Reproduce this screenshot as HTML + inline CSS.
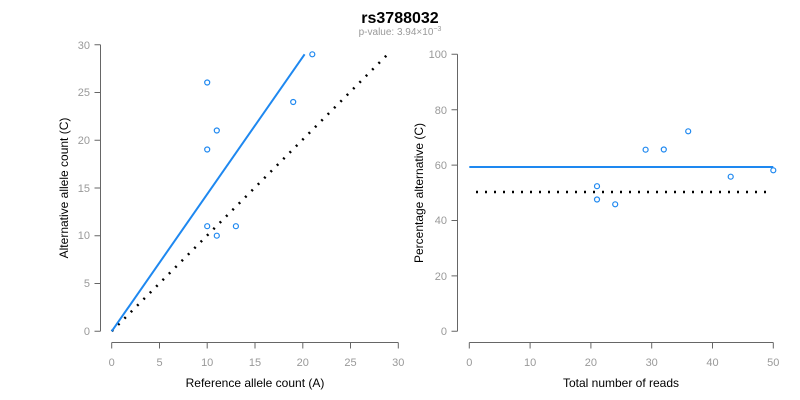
<!DOCTYPE html>
<html><head><meta charset="utf-8"><style>body{margin:0;background:#fff}svg{display:block}</style></head><body>
<svg width="800" height="400" xmlns="http://www.w3.org/2000/svg" font-family="Liberation Sans, sans-serif">
<rect width="800" height="400" fill="#fff"/>
<text x="400" y="23" text-anchor="middle" font-size="16" font-weight="bold">rs3788032</text>
<text x="400" y="35" text-anchor="middle" font-size="10" fill="#999">p-value: 3.94×10<tspan dy="-4" font-size="7">−3</tspan></text>
<g stroke="#666" stroke-width="1" fill="none">
<path d="M100.5,44.7V331.3M100.5,44.7h-6M100.5,92.5h-6M100.5,140.2h-6M100.5,188h-6M100.5,235.7h-6M100.5,283.5h-6M100.5,331.3h-6"/>
<path d="M111.7,342.5H398.3M111.7,342.5v6M159.5,342.5v6M207.2,342.5v6M255,342.5v6M302.8,342.5v6M350.5,342.5v6M398.3,342.5v6"/>
<path d="M457.5,54.3V331.3M457.5,54.3h-6M457.5,109.7h-6M457.5,165.1h-6M457.5,220.5h-6M457.5,275.9h-6M457.5,331.3h-6"/>
<path d="M469.3,342.5H773.3M469.3,342.5v6M530.1,342.5v6M590.9,342.5v6M651.7,342.5v6M712.5,342.5v6M773.3,342.5v6"/>
</g>
<g font-size="11" fill="#999" text-anchor="end">
<text x="90" y="49">30</text><text x="90" y="96">25</text><text x="90" y="144">20</text><text x="90" y="192">15</text><text x="90" y="239">10</text><text x="90" y="287">5</text><text x="90" y="335">0</text>
<text x="447" y="58">100</text><text x="447" y="114">80</text><text x="447" y="169">60</text><text x="447" y="224">40</text><text x="447" y="280">20</text><text x="447" y="335">0</text>
</g>
<g font-size="11" fill="#999" text-anchor="middle">
<text x="111.7" y="366">0</text><text x="159.5" y="366">5</text><text x="207.2" y="366">10</text><text x="255" y="366">15</text><text x="302.8" y="366">20</text><text x="350.5" y="366">25</text><text x="398.3" y="366">30</text>
<text x="469.3" y="366">0</text><text x="530.1" y="366">10</text><text x="590.9" y="366">20</text><text x="651.7" y="366">30</text><text x="712.5" y="366">40</text><text x="773.3" y="366">50</text>
</g>
<g font-size="12" fill="#000" text-anchor="middle">
<text x="255" y="387">Reference allele count (A)</text>
<text x="621" y="387">Total number of reads</text>
<text transform="translate(68,188) rotate(-90)">Alternative allele count (C)</text>
<text transform="translate(423,193) rotate(-90)">Percentage alternative (C)</text>
</g>
<line x1="111.7" y1="331.3" x2="387" y2="55" stroke="#000" stroke-width="2.5" stroke-dasharray="2,7"/>
<line x1="111.7" y1="331.3" x2="304.6" y2="54.3" stroke="#1e88f0" stroke-width="2"/>
<line x1="476" y1="192" x2="771" y2="192" stroke="#000" stroke-width="2.5" stroke-dasharray="2,7"/>
<line x1="469.3" y1="167" x2="773.3" y2="167" stroke="#1e88f0" stroke-width="2"/>
<g fill="none" stroke="#1e88f0" stroke-width="1.2">
<circle cx="207.2" cy="82.5" r="2.5"/><circle cx="207.2" cy="149.5" r="2.5"/><circle cx="216.8" cy="130.5" r="2.5"/><circle cx="293.2" cy="102" r="2.5"/><circle cx="312.3" cy="54.3" r="2.5"/><circle cx="207.2" cy="226.2" r="2.5"/><circle cx="216.8" cy="235.7" r="2.5"/><circle cx="235.9" cy="226.2" r="2.5"/>
<circle cx="597" cy="186.2" r="2.5"/><circle cx="597" cy="199.5" r="2.5"/><circle cx="615.2" cy="204.3" r="2.5"/><circle cx="645.6" cy="149.7" r="2.5"/><circle cx="663.8" cy="149.5" r="2.5"/><circle cx="688.2" cy="131.3" r="2.5"/><circle cx="730.7" cy="176.7" r="2.5"/><circle cx="773.3" cy="170.3" r="2.5"/>
</g>
</svg>
</body></html>
